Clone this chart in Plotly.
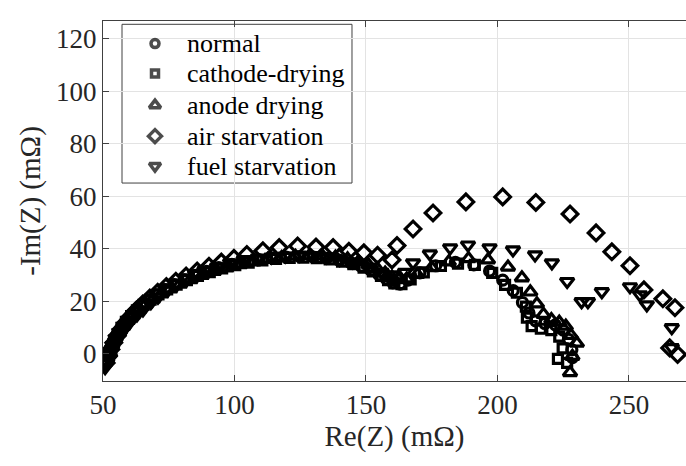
import plotly.graph_objects as go

# ---- data (Re(Z), -Im(Z)) in mOhm ----
normal_x = [51.0, 51.8, 52.7, 53.8, 55.1, 56.6, 58.3, 60.2, 62.4, 64.8, 67.5, 70.4, 73.6, 77.1, 80.9, 85.0, 89.4, 94.0, 99.0, 104.0, 109.2, 114.4, 119.6, 124.8, 130.0, 135.0, 139.8, 144.2, 148.2, 151.8, 155.0, 157.8, 160.2, 163.0, 166.0, 170.5, 176.5, 184.0, 191.0, 197.0, 202.0, 206.0, 209.5, 212.0, 214.5, 218.0, 222.0, 225.0, 227.0, 228.3, 228.5]
normal_y = [-3.0, -0.5, 2.0, 4.5, 7.0, 9.4, 11.8, 14.0, 16.2, 18.3, 20.4, 22.4, 24.4, 26.3, 28.1, 29.8, 31.4, 32.8, 34.0, 35.0, 35.8, 36.4, 36.8, 37.0, 36.8, 36.3, 35.6, 34.6, 33.3, 31.8, 30.0, 28.4, 27.0, 26.5, 28.0, 30.8, 33.5, 34.8, 33.8, 31.5, 28.0, 24.0, 19.5, 15.5, 12.5, 11.5, 11.0, 9.0, 5.5, 1.5, -1.5]

cathode_x = [51.3, 52.1, 53.1, 54.2, 55.5, 57.0, 58.7, 60.7, 62.9, 65.4, 68.1, 71.1, 74.4, 78.0, 81.9, 86.1, 90.6, 95.3, 100.3, 105.4, 110.6, 115.8, 121.0, 126.2, 131.3, 136.2, 140.9, 145.2, 149.1, 152.6, 155.7, 158.4, 160.8, 163.5, 167.0, 172.0, 178.5, 185.0, 191.4, 198.0, 202.9, 207.4, 210.8, 211.2, 213.0, 216.5, 220.5, 223.5, 224.8, 223.0, 226.5]
cathode_y = [-2.5, 0.0, 2.5, 5.0, 7.4, 9.8, 12.1, 14.3, 16.5, 18.6, 20.6, 22.6, 24.5, 26.3, 28.0, 29.6, 31.1, 32.5, 33.7, 34.7, 35.5, 36.1, 36.5, 36.6, 36.4, 35.9, 35.1, 34.1, 32.8, 31.3, 29.6, 28.0, 26.8, 26.5, 28.3, 31.0, 33.4, 34.3, 33.8, 30.8, 26.2, 23.2, 17.9, 13.7, 10.5, 9.5, 9.0, 6.5, 2.0, -2.0, -3.5]

anode_x = [51.5, 52.4, 53.5, 54.7, 56.1, 57.7, 59.5, 61.5, 63.8, 66.3, 69.1, 72.2, 75.6, 79.3, 83.3, 87.6, 92.2, 97.0, 102.1, 107.3, 112.6, 117.9, 123.2, 128.4, 133.5, 138.4, 143.0, 147.2, 151.0, 154.4, 157.3, 159.9, 162.5, 165.5, 169.5, 175.0, 181.5, 189.0, 196.4, 204.0, 209.3, 212.5, 215.0, 217.5, 220.5, 223.5, 226.0, 228.0, 230.2, 228.5, 227.6]
anode_y = [-1.5, 1.0, 3.5, 5.9, 8.2, 10.5, 12.7, 14.8, 16.9, 18.9, 20.9, 22.8, 24.7, 26.5, 28.2, 29.8, 31.3, 32.7, 33.9, 35.0, 35.9, 36.6, 37.1, 37.3, 37.2, 36.8, 36.1, 35.1, 33.8, 32.3, 30.7, 29.2, 28.2, 28.5, 30.2, 32.8, 35.0, 36.2, 35.7, 33.0, 28.9, 23.5, 19.0, 15.0, 13.0, 12.0, 10.5, 7.0, 4.0, -1.0, -7.2]

air_x = [51.2, 52.0, 53.0, 54.1, 55.4, 56.9, 58.6, 60.5, 62.7, 65.1, 67.8, 70.8, 74.1, 77.7, 81.6, 85.8, 90.3, 95.0, 99.8, 104.7, 110.8, 117.0, 124.0, 131.0, 137.5, 143.5, 149.2, 154.4, 159.9, 161.8, 167.9, 175.5, 188.0, 202.0, 214.6, 227.6, 237.5, 243.5, 250.4, 255.7, 262.9, 267.5, 265.5, 268.5]
air_y = [-3.5, -1.0, 1.6, 4.2, 6.8, 9.3, 11.8, 14.2, 16.6, 18.9, 21.2, 23.4, 25.6, 27.6, 29.6, 31.5, 33.3, 34.9, 36.3, 37.8, 39.2, 40.4, 41.0, 40.6, 40.4, 39.0, 38.4, 37.5, 35.7, 41.2, 47.5, 53.6, 57.8, 59.7, 57.6, 53.2, 46.0, 38.8, 33.5, 24.3, 20.9, 17.5, 2.2, -0.3]

fuel_x = [50.8, 51.6, 52.7, 53.4, 54.6, 56.5, 58.4, 60.6, 62.9, 65.2, 68.2, 70.9, 74.7, 78.2, 81.9, 85.0, 88.5, 93.3, 98.3, 103.5, 108.8, 114.0, 119.3, 124.6, 129.8, 135.0, 140.0, 145.0, 151.5, 156.0, 160.0, 164.8, 167.9, 174.3, 182.0, 188.8, 197.0, 205.9, 214.3, 220.7, 226.5, 232.0, 234.4, 239.7, 250.4, 254.2, 256.8, 266.3, 266.3]
fuel_y = [-5.3, -3.5, -1.5, 1.5, 4.6, 7.2, 9.9, 12.5, 14.8, 16.7, 19.4, 21.5, 24.3, 26.6, 28.9, 30.2, 31.6, 33.0, 34.6, 35.8, 36.4, 36.8, 37.2, 37.5, 37.4, 36.9, 35.9, 35.0, 33.0, 31.0, 30.0, 31.0, 34.6, 38.0, 40.3, 41.4, 40.3, 39.5, 37.6, 34.6, 27.5, 19.8, 19.8, 23.6, 25.5, 22.4, 18.6, 9.9, 2.3]

series_names = ["normal", "cathode-drying", "anode drying", "air starvation", "fuel starvation"]
series_x = [normal_x, cathode_x, anode_x, air_x, fuel_x]
series_y = [normal_y, cathode_y, anode_y, air_y, fuel_y]
symbols = ["circle-open", "square-open", "triangle-up-open", "diamond-open", "triangle-down-open"]
sizes = [10, 9, 12, 12, 12]
legend_sizes = [8, 7, 10, 10, 10]

x_ticks = [50, 100, 150, 200, 250]
y_ticks = [0, 20, 40, 60, 80, 100, 120]

FONT = "Liberation Serif, Times New Roman, Times, serif"
TXT = "#262626"

# legend box layout (fractions of the plot area)
LEG_X0, LEG_X1, LEG_Y0, LEG_Y1 = 0.0326, 0.4271, 0.5499, 0.9908
LEG_SYM_X = 0.0892
LEG_TXT_X = 0.1400
LEG_ROW_Y = [0.9373, 0.8541, 0.7662, 0.6802, 0.5971]

fig = go.Figure()
for name, xs, ys, sym, sz in zip(series_names, series_x, series_y, symbols, sizes):
    fig.add_trace(go.Scatter(
        x=xs, y=ys, mode="markers", name=name, showlegend=False,
        marker=dict(symbol=sym, size=sz, color="black",
                    line=dict(color="black", width=3.2)),
    ))

# legend symbols on an overlay axis spanning the plot area
fig.add_trace(go.Scatter(
    x=[LEG_SYM_X] * len(series_names), y=LEG_ROW_Y, mode="markers",
    xaxis="x2", yaxis="y2", showlegend=False, hoverinfo="skip",
    marker=dict(symbol=symbols, size=legend_sizes, color="black",
                line=dict(color="black", width=3.5)),
))

# legend frame
fig.add_shape(type="rect", xref="paper", yref="paper",
              x0=LEG_X0, x1=LEG_X1, y0=LEG_Y0, y1=LEG_Y1,
              line=dict(color="#404040", width=1), fillcolor="white",
              layer="between")
# legend texts
for name, yy in zip(series_names, LEG_ROW_Y):
    fig.add_annotation(x=LEG_TXT_X, y=yy, xref="paper", yref="paper",
                       text=name, showarrow=False, xanchor="left", yanchor="middle",
                       font=dict(family=FONT, size=26, color="#000000"))

axis_common = dict(
    showgrid=True, gridcolor="#e3e3e3", gridwidth=1,
    showline=True, linecolor="#404040", linewidth=1,
    ticks="inside", ticklen=6, tickcolor="#404040",
    zeroline=False,
    tickfont=dict(family=FONT, size=27, color=TXT),
)

fig.update_layout(
    xaxis=dict(range=[50, 271.7], tickvals=x_ticks, mirror="allticks",
               title=dict(text="Re(Z) (mΩ)", font=dict(family=FONT, size=29, color=TXT), standoff=4),
               **axis_common),
    yaxis=dict(range=[-10.4, 126.7], tickvals=y_ticks, mirror=False,
               title=dict(text="-Im(Z) (mΩ)", font=dict(family=FONT, size=29, color=TXT), standoff=6),
               **axis_common),
    xaxis2=dict(overlaying="x", range=[0, 1], visible=False, fixedrange=True),
    yaxis2=dict(overlaying="y", range=[0, 1], visible=False, fixedrange=True),
    width=686, height=466,
    margin=dict(l=103, r=0, t=21, b=85),
    plot_bgcolor="white", paper_bgcolor="white",
    font=dict(family=FONT, size=25, color=TXT),
    showlegend=False,
)

fig.write_html("out.html")
